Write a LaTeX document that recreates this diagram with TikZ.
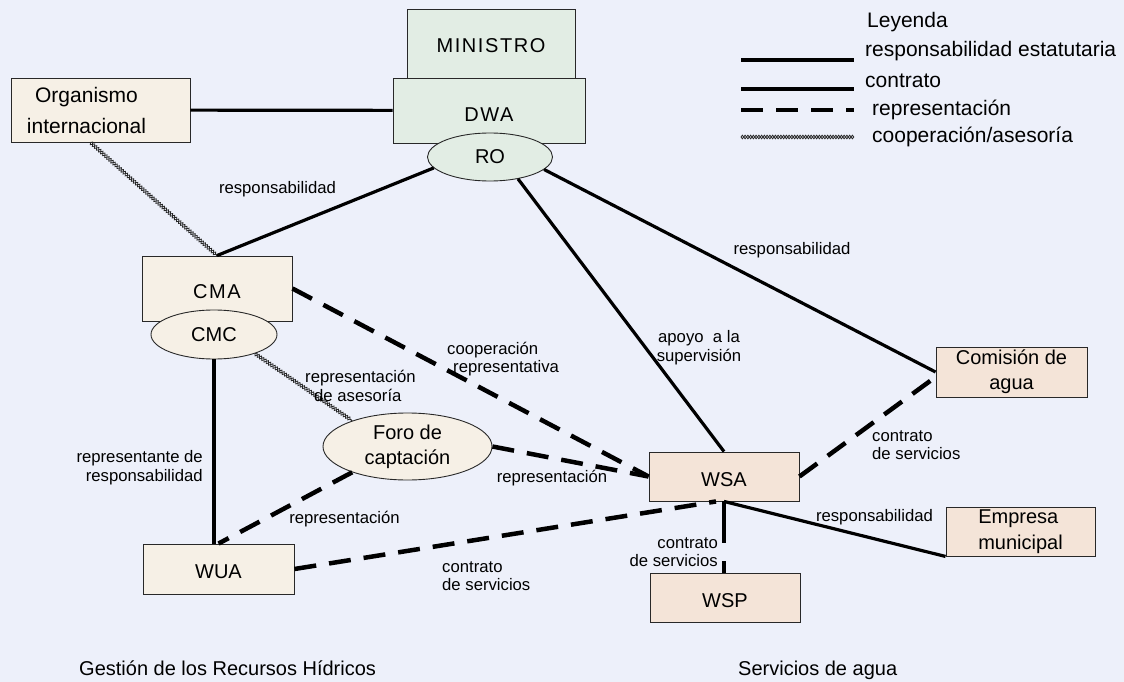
\documentclass[tikz,border=0pt]{standalone}
\usepackage{fontspec}
\setmainfont{Liberation Sans}
\newfontfamily\spacedfont[LetterSpace=8]{Liberation Sans}
\usepackage{tikz}
\usetikzlibrary{calc}
\usetikzlibrary{shapes.geometric}
\usetikzlibrary{decorations.pathmorphing}
\definecolor{paper}{RGB}{237,240,250}
\definecolor{ministrygreen}{RGB}{226,237,228}
\definecolor{basincream}{RGB}{246,240,230}
\definecolor{servicepeach}{RGB}{244,228,216}
\definecolor{outline}{RGB}{40,40,40}
\newcommand{\boxfont}{\fontsize{20}{25}\selectfont}
\newcommand{\keyfont}{\fontsize{21}{25}\selectfont}
\newcommand{\lblfont}{\fontsize{16.7}{18.5}\selectfont}
\newcommand{\boxwidth}{150pt}
\newcommand{\boxheight}{49pt}
\tikzset{
    common/.style={draw=outline, line width=0.9pt, inner sep=1pt, align=center, font=\boxfont},
    greenbox/.style={common, rectangle, fill=ministrygreen},
    creambox/.style={common, rectangle, fill=basincream, minimum width=\boxwidth, minimum height=\boxheight},
    peachbox/.style={common, rectangle, fill=servicepeach, minimum width=\boxwidth, minimum height=\boxheight},
    oval/.style={common, ellipse, inner sep=0pt},
    lowtext/.style={text height=#1, text depth=0pt},
    lowtext/.default=19pt,
    lbl/.style={font=\lblfont, inner sep=0pt},
    keytext/.style={font=\keyfont, inner sep=0pt, anchor=west},
    resp/.style={line width=3.2pt},
    contract/.style={line width=4.2pt},
    repr/.style={line width=4.5pt, dash pattern=on 22pt off 13pt},
    coop/.style={draw=none,
        preaction={draw=black!85, line width=0.8pt, decorate,
            decoration={zigzag, segment length=5.5pt, amplitude=1.8pt}},
        postaction={draw=black!85, line width=0.8pt, decorate,
            decoration={zigzag, segment length=5.5pt, amplitude=1.8pt, mirror}}
    }
}

\begin{document}
\begin{tikzpicture}[x=1pt, y=-1pt]
    \useasboundingbox (0,0) rectangle (1124,682);
    \fill[paper] (0,0) rectangle (1124,682);

    % ministry stack
    \path
        (491,43.5) node[greenbox, lowtext, minimum width=168pt, minimum height=69pt, font=\boxfont\spacedfont] (ministro) {MINISTRO}
        ++(-2,67) node[greenbox, lowtext=23pt, minimum width=192pt, minimum height=65pt, font=\boxfont\spacedfont] (dwa) {DWA}
        ++(1,46.5) node[oval, fill=ministrygreen, minimum width=125pt, minimum height=48pt] (ro) {RO};

    \node[creambox, minimum width=179pt, minimum height=64pt,
          label={[font=\fontsize{21}{31}\selectfont, align=center, xshift=-14pt]center:Organismo\\internacional}
         ] (org) at (100.5,110) {};

    % water resources management
    \path
        (217,288.5) node[creambox, lowtext, minimum height=65pt, font=\boxfont\spacedfont] (cma) {CMA}
        ++(-3,46) node[oval, fill=basincream, minimum width=126pt, minimum height=49pt] (cmc) {CMC}
        ++(4.5,234.5) node[creambox, lowtext, minimum width=151pt, minimum height=50pt] (wua) {WUA};
    \node[oval, fill=basincream, minimum width=169pt, minimum height=67pt] (foro) at (407.5,446.5) {Foro de\\captación};

    % water services
    \path
        (724,476.5) node[peachbox, lowtext] (wsa) {WSA}
        ++(1,121) node[peachbox, lowtext] (wsp) {WSP};
    \node[peachbox, minimum width=151pt, minimum height=50pt] (com) at (1011.5,372) {Comisión de\\agua};
    \node[peachbox, minimum width=149pt, align=left, font=\fontsize{20}{26}\selectfont] (emp) at (1020.5,531.5) {Empresa\\municipal};

    % connectors
    \draw[resp] (org) -- (dwa);
    \draw[coop] ([xshift=-10pt]org.south) -- (cma.north);
    \draw[resp] (ro.191) -- (cma.north);
    \draw[resp] (ro.-38) -- (wsa.north);
    \draw[resp] (ro.-13) -- (com.west);
    \draw[repr] (cma.east) -- (wsa.west);
    \draw[contract] (cmc.south) -- (cmc.south |- wua.north);
    \draw[coop] (cmc.-25) -- (foro.155);
    \draw[repr] (foro.east) -- (wsa.west);
    \draw[repr] (foro.205) -- (wua.north);
    \draw[repr] (wua.east) -- ([xshift=-8pt]wsa.south);
    \draw[repr] (wsa.east) -- ([yshift=-5pt]com.west);
    \draw[contract] (wsa.south) -- ++(0,42);
    \draw[contract] (wsa.south |- wsp.north) -- ++(0,-12);
    \draw[resp] (wsa.south) -- (emp.south west);

    % connector labels
    \node[lbl] (lbl-ro-cma) at (277.5,189) {responsabilidad};
    \node[lbl, align=center] (lbl-ro-wsa) at (699,347.5) {apoyo\ \ a la\\supervisión};
    \node[lbl] (lbl-ro-com) at (792,250) {responsabilidad};
    \node[lbl, align=left, anchor=west] (lbl-cma-wsa) at (447,359) {cooperación\\ \hspace*{6pt}representativa};
    \node[lbl, align=left, anchor=west] (lbl-cmc-foro) at (305,386) {representación\\ \hspace*{9pt}de asesoría};
    \node[lbl, align=right, anchor=east] (lbl-cmc-wua) at (203,467.5) {representante de\\responsabilidad};
    \node[lbl] (lbl-foro-wsa) at (552,478) {representación};
    \node[lbl] (lbl-foro-wua) at (344.5,519) {representación};
    \node[lbl, align=left, anchor=west] (lbl-wua-wsa) at (442,576) {contrato\\de servicios};
    \node[lbl, align=left, anchor=west] (lbl-wsa-com) at (872,445) {contrato\\de servicios};
    \node[lbl, align=right, anchor=east] (lbl-wsa-wsp) at (718,552) {contrato\\de servicios};
    \node[lbl] (lbl-wsa-emp) at (874.5,517) {responsabilidad};

    % legend
    \node[keytext] (key-title) at (867,22) {Leyenda};
    \node[keytext] (key-resp) at (865,51) {responsabilidad estatutaria};
    \node[keytext] (key-contract) at (865,81) {contrato};
    \node[keytext] (key-repr) at (872,110) {representación};
    \node[keytext] (key-coop) at (872,137) {cooperación/asesoría};
    \path (741,60) coordinate (key-resp-a) ++(113,0) coordinate (key-resp-b);
    \path (741,89) coordinate (key-contract-a) ++(113,0) coordinate (key-contract-b);
    \path (741,110) coordinate (key-repr-a) ++(113,0) coordinate (key-repr-b);
    \path (741,137) coordinate (key-coop-a) ++(113,0) coordinate (key-coop-b);
    \draw[resp] (key-resp-a) -- (key-resp-b);
    \draw[contract] (key-contract-a) -- (key-contract-b);
    \draw[repr] (key-repr-a) -- (key-repr-b);
    \draw[coop] (key-coop-a) -- (key-coop-b);

    % footers
    \node[font=\boxfont, anchor=west, inner sep=0pt] (foot-left) at (79,668) {Gestión de los Recursos Hídricos};
    \node[font=\boxfont, anchor=west, inner sep=0pt] (foot-right) at (738,670) {Servicios de agua};
\end{tikzpicture}
\end{document}
